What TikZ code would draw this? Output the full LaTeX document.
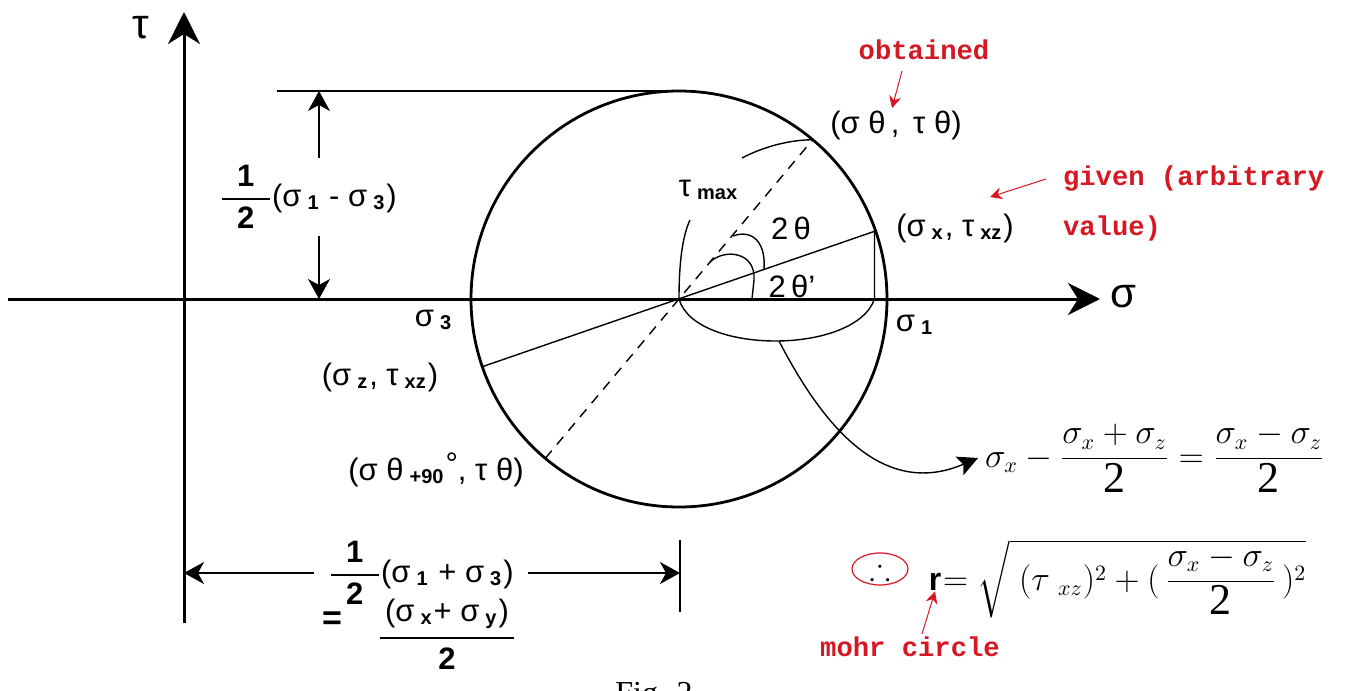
\documentclass[tikz,border=0pt]{standalone}
\usepackage{amsmath,amssymb}
\usepackage{fontspec}
\setmainfont{Liberation Sans}
\newfontfamily\notefont{Liberation Mono}
\newfontfamily\timesfont{Liberation Serif}
\usetikzlibrary{arrows.meta,shapes.geometric}
\definecolor{annot}{RGB}{214,24,36}
\newcommand\lsub[1]{\hspace{3pt}{\fontsize{10}{10}\selectfont\bfseries\raisebox{-1.5pt}{#1}}\hspace{1pt}}
\newcommand\bigtwo{\mbox{\timesfont\fontsize{22}{22}\selectfont 2}}
\newcommand\halfbold{$\genfrac{}{}{1.1pt}{0}{\makebox[24pt]{\bfseries 1}}{\makebox[24pt]{\bfseries 2}}$}
\begin{document}
\begin{tikzpicture}[x=0.5pt,y=-0.5pt,
  font=\fontsize{15.5}{17}\selectfont,
  axisline/.style={line width=1.5pt,-{Stealth[length=16pt,width=16pt,inset=5pt]}},
  rim/.style={line width=1.4pt},
  fine/.style={line width=0.7pt},
  twotips/.style={{Stealth[length=10pt,width=11pt,inset=3pt]}-{Stealth[length=10pt,width=11pt,inset=3pt]}},
  note/.style={text=annot,font=\notefont\bfseries\fontsize{13.6}{25}\selectfont},
  notearrow/.style={draw=annot,line width=0.5pt,-{Stealth[length=6pt,width=6pt]}},
  eqfont/.style={font=\fontsize{16}{18}\selectfont},
  axlab/.style={inner sep=1pt,font=\fontsize{21}{21}\selectfont},
  lab/.style={inner sep=1pt}]
\useasboundingbox (0,0) rectangle (1356,691);
\coordinate (O) at (679,299);
% axes
\coordinate (xL) at (8,299);
\coordinate (xR) at (1100,299);
\coordinate (yB) at (184,623);
\coordinate (yT) at (184,12);
\draw[axisline] (xL) -- (xR);
\draw[axisline] (yB) -- (yT);
\node[axlab] (taulab) at (141,28) {τ};
\node[axlab] (siglab) at (1123,297) {σ};
% circle
\draw[rim] (O) circle[radius=208];
\coordinate (Px) at (874.5,231.3);
\coordinate (Pz) at (482.3,366.7);
\coordinate (Pt) at (812.7,139.7);
\coordinate (Pt2) at (545.3,458.3);
\coordinate (Pxf) at (874.5,299);
\draw[fine] (Pz) -- (Px) -- (Pxf);
\draw[fine,dash pattern=on 5pt off 4pt] (Pt2) -- (Pt);
% angle arcs
\draw[fine] (O) .. controls (679,265) and (682,237) .. (690,220);
\draw[fine] (742,158) .. controls (765,146) and (790,140) .. (Pt);
\draw[fine] (733,236) .. controls (752,229) and (766,242) .. (764,269);
\draw[fine] (710,262) .. controls (725,248) and (756,252) .. (754,280) -- (752,299);
\draw[fine] (O) .. controls (695,355) and (855,355) .. (Pxf);
\node[lab] (taumax) at (708,190) {τ\lsub{max}};
\node[lab] (twoth) at (791,228) {2\,θ};
\node[lab] (twothp) at (792,286) {2\,θ’};
% point labels
\node[lab] (ptlab) at (896,125) {(σ θ\,,\, τ θ)};
\node[lab] (pxlab) at (955,228) {(σ\lsub{x}, τ\lsub{xz})};
\node[lab] (pzlab) at (380,377) {(σ\lsub{z}, τ\lsub{xz})};
\node[lab] (pt2lab) at (436,470) {(σ θ\lsub{+90}\raisebox{3pt}{°}, τ θ)};
\node[lab] (s3) at (433,320) {σ\lsub{3}};
\node[lab] (s1) at (914,325) {σ\lsub{1}};
% top dimension
\coordinate (topL) at (277,91);
\coordinate (topR) at (688,91);
\draw[fine] (topL) -- (topR);
\coordinate (dT) at (319,91);
\coordinate (dB) at (319,299);
\draw[fine,twotips] (dB) -- (dT);
\node[fill=white,inner xsep=1pt,inner ysep=4pt] (dlab) at (308,197) {\halfbold(σ\lsub{1} - σ\lsub{3})};
% bottom dimension
\coordinate (bL) at (184,573);
\coordinate (bR) at (680,573);
\coordinate (tkT) at (680,540);
\coordinate (tkB) at (680,612);
\draw[fine,twotips] (bL) -- (bR);
\draw[fine] (tkT) -- (tkB);
\node[fill=white,inner xsep=7pt,inner ysep=2pt] (blab) at (421,573) {\halfbold(σ\lsub{1} + σ\lsub{3})};
\node[lab,font=\fontsize{17}{17}\selectfont\bfseries] (eqs) at (332,621) {=};
\node[lab] (avg) at (447,634) {$\genfrac{}{}{1.4pt}{0}{\text{\,(σ\lsub{x}+ σ\lsub{y})\,}}{\text{\bfseries 2}}$};
% right equations
\node[eqfont,anchor=west] (eqA) at (978,458) {$\sigma_x-\dfrac{\sigma_x+\sigma_z}{\bigtwo}=\dfrac{\sigma_x-\sigma_z}{\bigtwo}$};
\coordinate (lowpt) at (779,341);
\draw[fine,-{Stealth[length=10pt,width=10pt,inset=2pt]}] (lowpt) .. controls (820,420) and (880,500) .. (eqA.west);
\node[eqfont,anchor=base,inner sep=0.5pt] (r) at (935,590) {$\mathbf{r}$};
\node[eqfont,anchor=base west,inner sep=0pt] (rhs) at (r.base east) {$=\sqrt{\;(\tau_{\;\;xz})^{2}+(\,\dfrac{\sigma_x-\sigma_z}{\bigtwo}\,)^{2}}$};
\node[ellipse,draw=annot,line width=0.6pt,minimum width=28pt,minimum height=16pt,inner sep=0pt] (thf) at (880,569) {$\therefore$};
% red notes
\node[note] (obt) at (924,50) {obtained};
\draw[notearrow] ([xshift=-11pt,yshift=-2pt]obt.south) -- ([xshift=-2pt]ptlab.north);
\node[note,align=left,anchor=west] (given) at (1056,203) {given (arbitrary\\value)};
\coordinate (givtip) at (990,197);
\draw[notearrow] ([xshift=-5pt,yshift=12pt]given.west) -- (givtip);
\node[note] (mohr) at (910,647) {mohr circle};
\draw[notearrow] ([xshift=6pt,yshift=-2pt]mohr.north) -- (r.south);
% caption (cut by the frame, as in the reference)
\node[font=\timesfont\fontsize{16}{16}\selectfont,anchor=base] (fig) at (658,703) {Fig. 2.};
\end{tikzpicture}
\end{document}
